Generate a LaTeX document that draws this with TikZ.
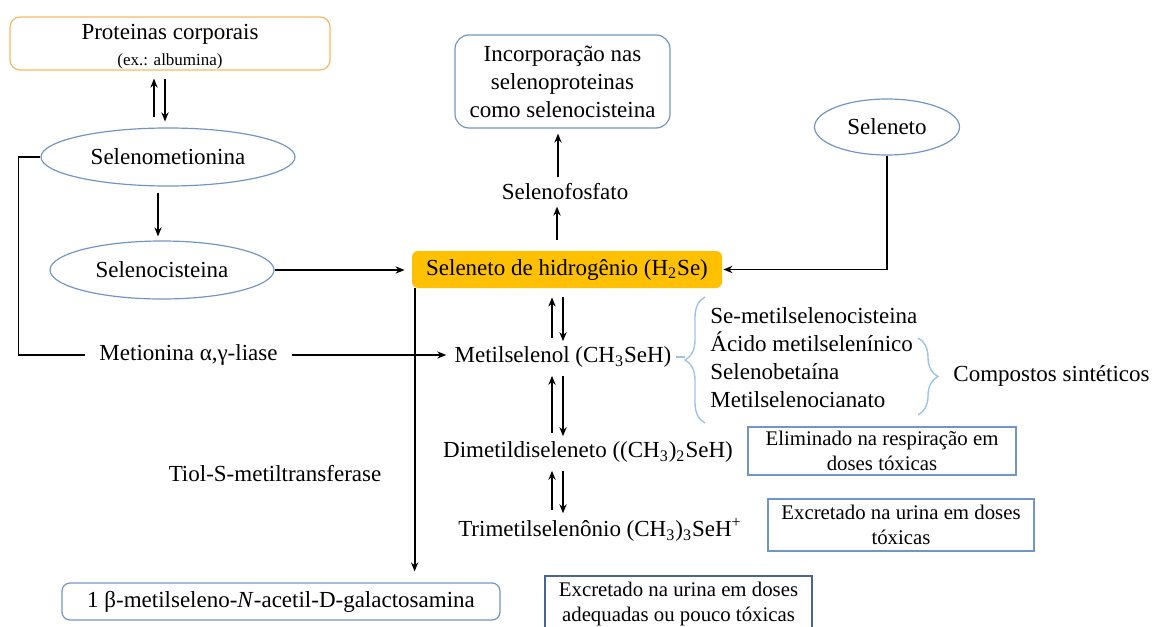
\documentclass[tikz,border=0pt]{standalone}
\usepackage{fontspec}
\setmainfont{Liberation Serif}
\usepackage{xcolor}
\definecolor{hubOrange}{HTML}{FFC000}
\definecolor{paleOrange}{HTML}{F7B865}
\definecolor{edgeBlue}{HTML}{7196C4}
\definecolor{braceBlue}{HTML}{9DC3E6}
\definecolor{slateBlue}{HTML}{4A6594}
\usepackage{tikz}
\usetikzlibrary{
    shapes.geometric,
    arrows.meta,
    decorations.pathreplacing
}
\tikzset{
    % Base style for all nodes
    label base/.style={
        font=\fontsize{11.5}{14}\selectfont,
        align=center,
        text=black,
        inner sep=2pt,
    },
    % Compound nodes - thin blue ellipse
    compound/.style={
        label base,
        ellipse,
        draw=edgeBlue,
        line width=0.6pt,
        inner sep=0pt,
    },
    % Central node - filled orange box
    hub/.style={
        label base,
        rectangle,
        rounded corners=3pt,
        fill=hubOrange,
        minimum width=155pt,
        minimum height=18.5pt,
    },
    % Rounded boxes with a thin border
    roundbox/.style={
        label base,
        rectangle,
        rounded corners=5pt,
        draw=edgeBlue,
        line width=0.6pt,
    },
    % Note boxes - square corners, smaller text
    note/.style={
        label base,
        rectangle,
        draw=edgeBlue,
        line width=0.6pt,
        font=\fontsize{10.4}{12.5}\selectfont,
    },
    % Plain connector
    link/.style={
        line width=0.9pt,
        draw=black,
    },
    % Arrow style
    arrow/.style={
        link,
        -{Stealth[length=4.5pt, width=3.6pt]},
    },
    % Curly braces
    curly/.style={
        decorate,
        decoration={brace, amplitude=10pt},
        draw=braceBlue,
        line width=0.7pt,
    },
}

\begin{document}
\begin{tikzpicture}[x=0.5pt, y=-0.5pt]
    \useasboundingbox (0,0) rectangle (1154,626);
    \clip (0,0) rectangle (1154,626);

    % columns of the paired arrows
    \coordinate (protup) at (154,0);
    \coordinate (protdown) at (165,0);
    \coordinate (seup) at (552,0);
    \coordinate (sedown) at (563,0);

    % left side
    \node (proteins) [roundbox, draw=paleOrange, minimum width=160pt, minimum height=26.5pt, inner sep=0pt] at (170,43.5)
        {\rule{0pt}{11pt}Proteinas corporais\\[-1pt]{\fontsize{8.5}{10}\selectfont (ex.: albumina)}};
    \node (selenomet) [compound, minimum width=127pt, minimum height=29pt] at (168,157) {Selenometionina};
    \node (selenocis) [compound, minimum width=112pt, minimum height=29pt] at (162,270) {Selenocisteina};
    \node (metionina) [label base, inner xsep=7pt] at (188.5,355) {Metionina α,γ-liase};
    \node (tiol) [label base] at (275,474) {Tiol-S-metiltransferase};
    \node (galacto) [roundbox, rounded corners=4pt, minimum width=219pt, minimum height=18.5pt, inner sep=0pt] at (281,601.5)
        {1 β-metilseleno-\textit{N}-acetil-D-galactosamina};

    % middle column
    \node (incorp) [roundbox, rounded corners=7pt, minimum width=107.5pt, minimum height=46.5pt, inner sep=0pt] at (562.5,81.5)
        {Incorporação nas\\selenoproteinas\\como selenocisteina};
    \node (fosfato) [label base] at (565,192) {Selenofosfato};
    \node (h2se) [hub] at (567,269.5) {Seleneto de hidrogênio (H\textsubscript{2}Se)};
    \node (metilsel) [label base] at (563,357) {Metilselenol (CH\textsubscript{3}SeH)};
    \node (dimetil) [label base] at (588,452) {Dimetildiseleneto ((CH\textsubscript{3})\textsubscript{2}SeH)};
    \node (trimetil) [label base] at (600,530) {Trimetilselenônio (CH\textsubscript{3})\textsubscript{3}SeH\textsuperscript{+}};

    % right side
    \node (seleneto) [compound, minimum width=72.5pt, minimum height=28pt] at (887,127) {Seleneto};
    \node (sintlist) [label base, align=left, anchor=west] at (706,357.5)
        {Se-metilselenocisteina\\Ácido metilselenínico\\Selenobetaína\\Metilselenocianato};
    \node (sinteticos) [label base, anchor=west] at (949,376) {Compostos sintéticos};
    \node (respira) [note, minimum width=134pt, minimum height=24pt, inner sep=0pt] at (882,451)
        {Eliminado na respiração em\\doses tóxicas};
    \node (urina) [note, minimum width=133pt, minimum height=26pt, inner sep=0pt] at (901,525)
        {Excretado na urina em doses\\tóxicas};
    \node (urinaok) [note, draw=slateBlue, minimum width=133.5pt, minimum height=28pt, inner sep=0pt] at (678.5,604)
        {Excretado na urina em doses\\adequadas ou pouco tóxicas};

    % braces
    \draw [curly] (705,423) -- (705,297);
    \draw [curly] (918,338) -- (918,415);
    \draw [braceBlue, line width=0.7pt] (metilsel.east) -- (685,357);

    % paired arrows
    \draw [arrow, shorten <=5pt, shorten >=4pt] (selenomet.north -| protup) -- (proteins.south -| protup);
    \draw [arrow, shorten <=4pt, shorten >=3pt] (proteins.south -| protdown) -- (selenomet.north -| protdown);
    \draw [arrow, shorten <=2pt, shorten >=4.5pt] (metilsel.north -| seup) -- (h2se.south -| seup);
    \draw [arrow, shorten <=4.5pt, shorten >=0.5pt] (h2se.south -| sedown) -- (metilsel.north -| sedown);
    \draw [arrow, shorten <=2pt, shorten >=2pt] (dimetil.north -| seup) -- (metilsel.south -| seup);
    \draw [arrow, shorten <=2pt, shorten >=0.5pt] (metilsel.south -| sedown) -- (dimetil.north -| sedown);
    \draw [arrow, shorten <=2pt, shorten >=2pt] (trimetil.north -| seup) -- (dimetil.south -| seup);
    \draw [arrow, shorten <=2pt, shorten >=0.5pt] (dimetil.south -| sedown) -- (trimetil.north -| sedown);

    % single arrows
    \draw [arrow, shorten <=3pt, shorten >=2pt] ([xshift=-5pt]selenomet.south) -- ([xshift=-5pt]selenomet.south |- selenocis.north);
    \draw [arrow, shorten >=3.5pt] (selenocis.east) -- (selenocis.east -| h2se.west);
    \draw [arrow, shorten >=0.5pt] (seleneto.south) |- (h2se.east);
    \draw [arrow, shorten <=5.5pt, shorten >=1pt] ([xshift=-5pt]h2se.north) -- ([xshift=-5pt]h2se.north |- fosfato.south);
    \draw [arrow, shorten <=1pt, shorten >=2.5pt] ([xshift=-3.5pt]fosfato.north) -- ([xshift=-3.5pt]fosfato.north |- incorp.south);
    \draw [link] (selenomet.west) -- ++(-22,0) |- (metionina.west);
    \draw [arrow, shorten >=2pt] (metionina.east) -- (metionina.east -| metilsel.west);
    \draw [arrow, shorten >=5.5pt] ([xshift=1.5pt]h2se.south west) -- ([xshift=1.5pt]h2se.south west |- galacto.north);
\end{tikzpicture}
\end{document}
